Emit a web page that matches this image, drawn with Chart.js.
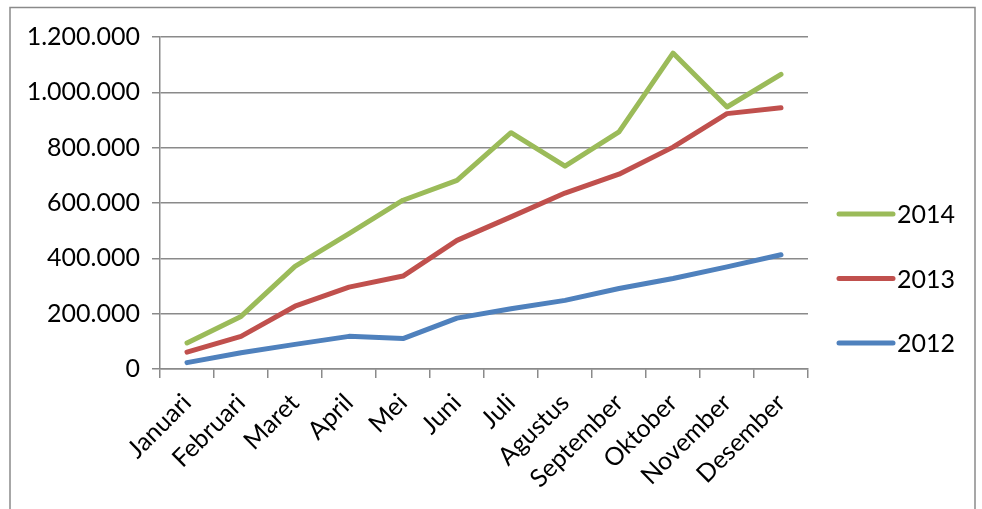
<!DOCTYPE html>
<html>
<head>
<meta charset="utf-8">
<script src="https://cdn.jsdelivr.net/npm/chart.js@4.4.1/dist/chart.umd.min.js"></script>
<style>
    html, body { margin: 0; padding: 0; background: #fff; }
    #wrap { width: 982px; height: 509px; position: relative; }
</style>
</head>
<body>
<div id="wrap"><canvas id="chart"></canvas></div>
<script>
// Data penjualan per bulan
const months = ['Januari', 'Februari', 'Maret', 'April', 'Mei', 'Juni', 'Juli',
    'Agustus', 'September', 'Oktober', 'November', 'Desember'];
const values2014 = [94000, 190000, 371000, 489000, 610000, 682000, 854000, 733000, 857000, 1142000, 947000, 1065000];
const values2013 = [61000, 118000, 227000, 296000, 336000, 465000, 550000, 636000, 704000, 802000, 923000, 944000];
const values2012 = [23000, 59000, 89000, 118000, 110000, 184000, 218000, 248000, 291000, 327000, 369000, 413000];
const yTicks = [0, 200000, 400000, 600000, 800000, 1000000, 1200000];

const FONT = 'Lato, "Liberation Sans", sans-serif';

// Format angka dengan titik sebagai pemisah ribuan
function formatNumber(v) {
    return String(v).replace(/\B(?=(\d{3})+(?!\d))/g, '.');
}

// Bingkai luar dan legenda manual
const framePlugin = {
    id: 'frame',
    beforeDraw(chart) {
        const ctx = chart.ctx;
        ctx.save();
        ctx.fillStyle = '#fff';
        ctx.fillRect(0, 0, chart.width, chart.height);
        ctx.strokeStyle = '#8a8a8a';
        ctx.lineWidth = 1.5;
        ctx.beginPath();
        ctx.moveTo(10, 520);
        ctx.lineTo(10, 7.5);
        ctx.lineTo(975, 7.5);
        ctx.lineTo(975, 520);
        ctx.stroke();
        ctx.restore();
    },
    afterDraw(chart) {
        const ctx = chart.ctx;
        const sets = chart.data.datasets;
        ctx.save();
        ctx.font = '25px ' + FONT;
        ctx.textBaseline = 'middle';
        sets.forEach((ds, i) => {
            const y = 214 + i * 64.5;
            ctx.strokeStyle = ds.borderColor;
            ctx.lineWidth = 5;
            ctx.lineCap = 'round';
            ctx.beginPath();
            ctx.moveTo(839, y);
            ctx.lineTo(893, y);
            ctx.stroke();
            ctx.fillStyle = '#000';
            ctx.fillText(ds.label, 897, y + 1);
        });
        ctx.restore();
    }
};

const lineStyle = {
    borderWidth: 5,
    pointRadius: 0,
    pointHoverRadius: 0,
    tension: 0,
    fill: false,
    borderCapStyle: 'round',
    borderJoinStyle: 'round'
};

const ctx = document.getElementById('chart').getContext('2d');
new Chart(ctx, {
    type: 'line',
    data: {
        labels: months,
        datasets: [
            Object.assign({ label: '2014', data: values2014, borderColor: '#9BBB59' }, lineStyle),
            Object.assign({ label: '2013', data: values2013, borderColor: '#C0504D' }, lineStyle),
            Object.assign({ label: '2012', data: values2012, borderColor: '#4F81BD' }, lineStyle)
        ]
    },
    options: {
        responsive: true,
        maintainAspectRatio: false,
        animation: false,
        layout: { padding: { left: 0, right: 174, top: 37, bottom: 0 } },
        plugins: {
            legend: { display: false },
            tooltip: { enabled: false }
        },
        scales: {
            x: {
                offset: true,
                grid: {
                    offset: true,
                    drawOnChartArea: false,
                    color: '#8a8a8a',
                    lineWidth: 1.5,
                    tickLength: 9
                },
                border: { color: '#8a8a8a', width: 1.5 },
                ticks: {
                    color: '#000',
                    font: { family: FONT, size: 25 },
                    maxRotation: 45,
                    minRotation: 45,
                    autoSkip: false,
                    padding: 10
                },
                afterFit(scale) { scale.height = 140; }
            },
            y: {
                min: 0,
                max: 1200000,
                afterBuildTicks(scale) {
                    scale.ticks = yTicks.map(v => ({ value: v }));
                },
                grid: {
                    color: '#8a8a8a',
                    lineWidth: 1.5,
                    tickLength: 8
                },
                border: { color: '#8a8a8a', width: 1.5 },
                ticks: {
                    color: '#000',
                    font: { family: FONT, size: 25 },
                    padding: 12,
                    callback: v => formatNumber(v)
                },
                afterFit(scale) { scale.width = 160; }
            }
        }
    },
    plugins: [framePlugin]
});
</script>
</body>
</html>
